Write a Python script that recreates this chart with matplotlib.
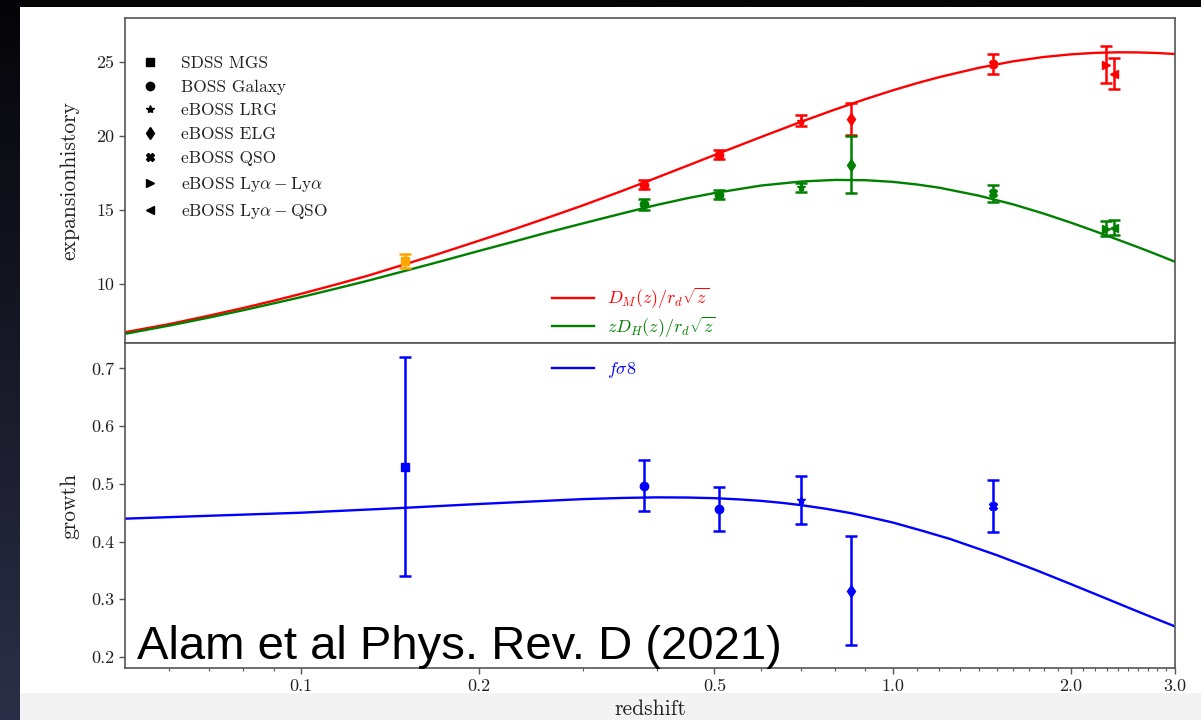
import numpy as np
import matplotlib
matplotlib.use("Agg")
import matplotlib.pyplot as plt
from matplotlib.lines import Line2D
from matplotlib.patches import Rectangle
from matplotlib.colors import LinearSegmentedColormap
from matplotlib.ticker import FixedLocator, FixedFormatter, NullFormatter

plt.rcParams['font.family'] = 'serif'
plt.rcParams['font.serif'] = ['cmr10', 'DejaVu Serif']
plt.rcParams['mathtext.fontset'] = 'cm'
plt.rcParams['axes.formatter.use_mathtext'] = True

# ---------------- data ----------------
survey_names = ['SDSS MGS', 'BOSS Galaxy', 'eBOSS LRG', 'eBOSS ELG', 'eBOSS QSO',
                r'eBOSS $\mathrm{Ly}\alpha-\mathrm{Ly}\alpha$',
                r'eBOSS $\mathrm{Ly}\alpha-\mathrm{QSO}$']
survey_markers = ['s', 'o', '*', 'd', 'X', '>', '<']

# MGS isotropic point (orange)
mgs_z = [0.15]
mgs_dv = [11.55]
mgs_dv_err = [0.45]

# anisotropic BAO points
bao_z = [0.38, 0.51, 0.70, 0.85, 1.48, 2.29, 2.37]
bao_marker = ['o', 'o', '*', 'd', 'X', '>', '<']
dm_val = [16.72, 18.74, 21.05, 21.16, 24.86, 24.84, 24.24]
dm_err = [0.28, 0.30, 0.39, 1.07, 0.67, 1.25, 1.08]
dh_val = [15.38, 16.05, 16.54, 18.07, 16.12, 13.75, 13.81]
dh_err = [0.38, 0.33, 0.31, 1.93, 0.60, 0.48, 0.50]

# growth points
fs8_z = [0.15, 0.38, 0.51, 0.70, 0.85, 1.48]
fs8_marker = ['s', 'o', 'o', '*', 'd', 'X']
fs8_val = [0.53, 0.497, 0.457, 0.472, 0.315, 0.461]
fs8_err = [0.19, 0.044, 0.038, 0.041, 0.094, 0.045]

# model curves
curve_z = [0.0505, 0.06, 0.07, 0.08, 0.09, 0.10, 0.115, 0.13, 0.15, 0.17,
           0.20, 0.23, 0.26, 0.30, 0.35, 0.40, 0.45, 0.50, 0.60, 0.70,
           0.80, 0.90, 1.00, 1.10, 1.20, 1.40, 1.60, 1.80, 2.00, 2.20,
           2.40, 2.60, 2.80, 3.00]
dm_curve = [6.73, 7.28, 7.85, 8.37, 8.86, 9.32, 9.97, 10.56, 11.33, 12.00,
            12.92, 13.72, 14.45, 15.32, 16.31, 17.20, 18.00, 18.72, 19.95, 20.97,
            21.81, 22.51, 23.10, 23.59, 24.00, 24.63, 25.07, 25.36, 25.54, 25.64,
            25.68, 25.67, 25.63, 25.56]
dh_curve = [6.62, 7.18, 7.72, 8.22, 8.68, 9.10, 9.69, 10.22, 10.88, 11.46,
            12.23, 12.88, 13.46, 14.10, 14.78, 15.35, 15.80, 16.15, 16.66, 16.93,
            17.04, 17.02, 16.91, 16.73, 16.51, 15.97, 15.38, 14.76, 14.15, 13.56,
            13.00, 12.48, 11.98, 11.50]

fs8_curve_z = [0.0505, 0.07, 0.10, 0.15, 0.20, 0.25, 0.30, 0.35, 0.40, 0.45,
               0.50, 0.55, 0.60, 0.65, 0.70, 0.77, 0.85, 0.92, 1.00, 1.12,
               1.25, 1.37, 1.50, 1.75, 2.00, 2.25, 2.54, 2.75, 3.00]
fs8_curve = [0.4397, 0.4447, 0.4500, 0.4585, 0.4651, 0.4698, 0.4736, 0.4756, 0.4766,
             0.4763, 0.4752, 0.4731, 0.4705, 0.4671, 0.4632, 0.4570, 0.4493, 0.4416,
             0.4331, 0.4190, 0.4046, 0.3905, 0.3765, 0.3503, 0.3264, 0.3050, 0.2828,
             0.2685, 0.2530]

major_ticks = [0.1, 0.2, 0.5, 1.0, 2.0, 3.0]
major_labels = ['0.1', '0.2', '0.5', '1.0', '2.0', '3.0']
minor_ticks = [0.06, 0.07, 0.08, 0.09, 0.3, 0.4, 0.6, 0.7, 0.8, 0.9,
               1.1, 1.2, 1.3, 1.4, 1.5, 1.6, 1.7, 1.8, 1.9,
               2.1, 2.2, 2.3, 2.4, 2.5, 2.6, 2.7, 2.8, 2.9]
up_yticks = [10, 15, 20, 25]
low_yticks = [0.2, 0.3, 0.4, 0.5, 0.6, 0.7]

RED, GREEN, BLUE, ORANGE = '#ff0000', '#008000', '#0000ff', '#ffa500'

W, H = 1201, 720
fig = plt.figure(figsize=(W / 100, H / 100), dpi=100)

# slide background: dark gradient, white page, light-grey strip
bg = fig.add_axes([0, 0, 1, 1], zorder=-10)
grad = np.linspace(0, 1, 256).reshape(-1, 1)
cmap = LinearSegmentedColormap.from_list('bgc', ['#050508', '#171927', '#2c2f47'])
bg.imshow(grad, aspect='auto', cmap=cmap, extent=[0, 1, 0, 1], origin='upper')
bg.set_xlim(0, 1); bg.set_ylim(0, 1)
bg.add_patch(Rectangle((20 / W, 27 / H), 1 - 20 / W, (693 - 7) / H, color='white', lw=0))
bg.add_patch(Rectangle((20 / W, 0), 1 - 20 / W, 27 / H, color='#f3f3f3', lw=0))
bg.axis('off')

L, R = 125 / W, 1175 / W
ax1 = fig.add_axes([L, (720 - 343) / H, R - L, 325 / H])
ax2 = fig.add_axes([L, (720 - 668) / H, R - L, 325 / H], sharex=ax1)

for ax in (ax1, ax2):
    ax.set_xscale('log')
    for s in ax.spines.values():
        s.set_color('#555555')
        s.set_linewidth(1.2)
    ax.tick_params(axis='both', which='both', direction='out', colors='#555555',
                   labelcolor='#222222', labelsize=13, top=False, right=False)
    ax.tick_params(axis='y', which='major', length=4, width=1)
    ax.tick_params(axis='x', which='major', length=4, width=1)
    ax.tick_params(axis='x', which='minor', length=2.2, width=0.8)

ax1.set_xlim(0.0505, 3.0)
ax1.set_ylim(6.0, 28.0)
ax2.set_ylim(0.181, 0.744)

ax2.xaxis.set_major_locator(FixedLocator(major_ticks))
ax2.xaxis.set_major_formatter(FixedFormatter(major_labels))
ax2.xaxis.set_minor_locator(FixedLocator(minor_ticks))
ax2.xaxis.set_minor_formatter(NullFormatter())
ax1.tick_params(axis='x', which='both', length=0, labelbottom=False)
ax1.set_yticks(up_yticks)
ax1.set_yticklabels([str(v) for v in up_yticks])
ax2.set_yticks(low_yticks)
ax2.set_yticklabels(['%.1f' % v for v in low_yticks])

# curves
l_dm, = ax1.plot(curve_z, dm_curve, color=RED, lw=1.7, label=r'$D_M(z)/r_d\sqrt{z}$')
l_dh, = ax1.plot(curve_z, dh_curve, color=GREEN, lw=1.7, label=r'$zD_H(z)/r_d\sqrt{z}$')
l_fs, = ax2.plot(fs8_curve_z, fs8_curve, color=BLUE, lw=1.7, label=r'$f\sigma8$')

eb = dict(capsize=4, elinewidth=1.8, capthick=1.8, markersize=6, ls='none')
ax1.errorbar(mgs_z, mgs_dv, yerr=mgs_dv_err, fmt='s', color=ORANGE, **eb)
for z, v, e, m in zip(bao_z, dm_val, dm_err, bao_marker):
    ax1.errorbar([z], [v], yerr=[e], fmt=m, color=RED, **eb)
for z, v, e, m in zip(bao_z, dh_val, dh_err, bao_marker):
    ax1.errorbar([z], [v], yerr=[e], fmt=m, color=GREEN, **eb)
for z, v, e, m in zip(fs8_z, fs8_val, fs8_err, fs8_marker):
    ax2.errorbar([z], [v], yerr=[e], fmt=m, color=BLUE, **eb)

# legends
handles = [Line2D([], [], marker=m, color='k', ls='None', markersize=6) for m in survey_markers]
leg1 = ax1.legend(handles, survey_names, loc='upper left', bbox_to_anchor=(0.009, 0.906),
                  frameon=False, fontsize=12.5, handlelength=1.0, handletextpad=1.3,
                  labelspacing=0.49, borderaxespad=0)
for t in leg1.get_texts():
    t.set_color('#222222')
ax1.add_artist(leg1)
ax1.legend(handles=[l_dm, l_dh], loc='lower left', bbox_to_anchor=(0.4, -0.012),
           frameon=False, fontsize=13, handlelength=2.3, handletextpad=0.75,
           labelspacing=0.2, borderaxespad=0, labelcolor='linecolor')
ax2.legend(handles=[l_fs], loc='upper left', bbox_to_anchor=(0.4, 0.97),
           frameon=False, fontsize=13, handlelength=2.3, handletextpad=0.75,
           borderaxespad=0, labelcolor='linecolor')

ax1.set_ylabel('expansionhistory', fontsize=15.5, color='#222222')
ax2.set_ylabel('growth', fontsize=15.5, color='#222222')
ax1.yaxis.set_label_coords(-0.043, 0.5)
ax2.yaxis.set_label_coords(-0.043, 0.5)
ax2.set_xlabel('redshift', fontsize=15.5, color='#222222', va='top')
ax2.xaxis.set_label_coords(0.5, -0.098)

fig.text(137 / W, (720 - 659) / H, 'Alam et al Phys. Rev. D (2021)',
         fontsize=34, family=['Liberation Sans', 'DejaVu Sans'], color='black',
         va='baseline', ha='left')

fig.savefig('out.png', dpi=100)
